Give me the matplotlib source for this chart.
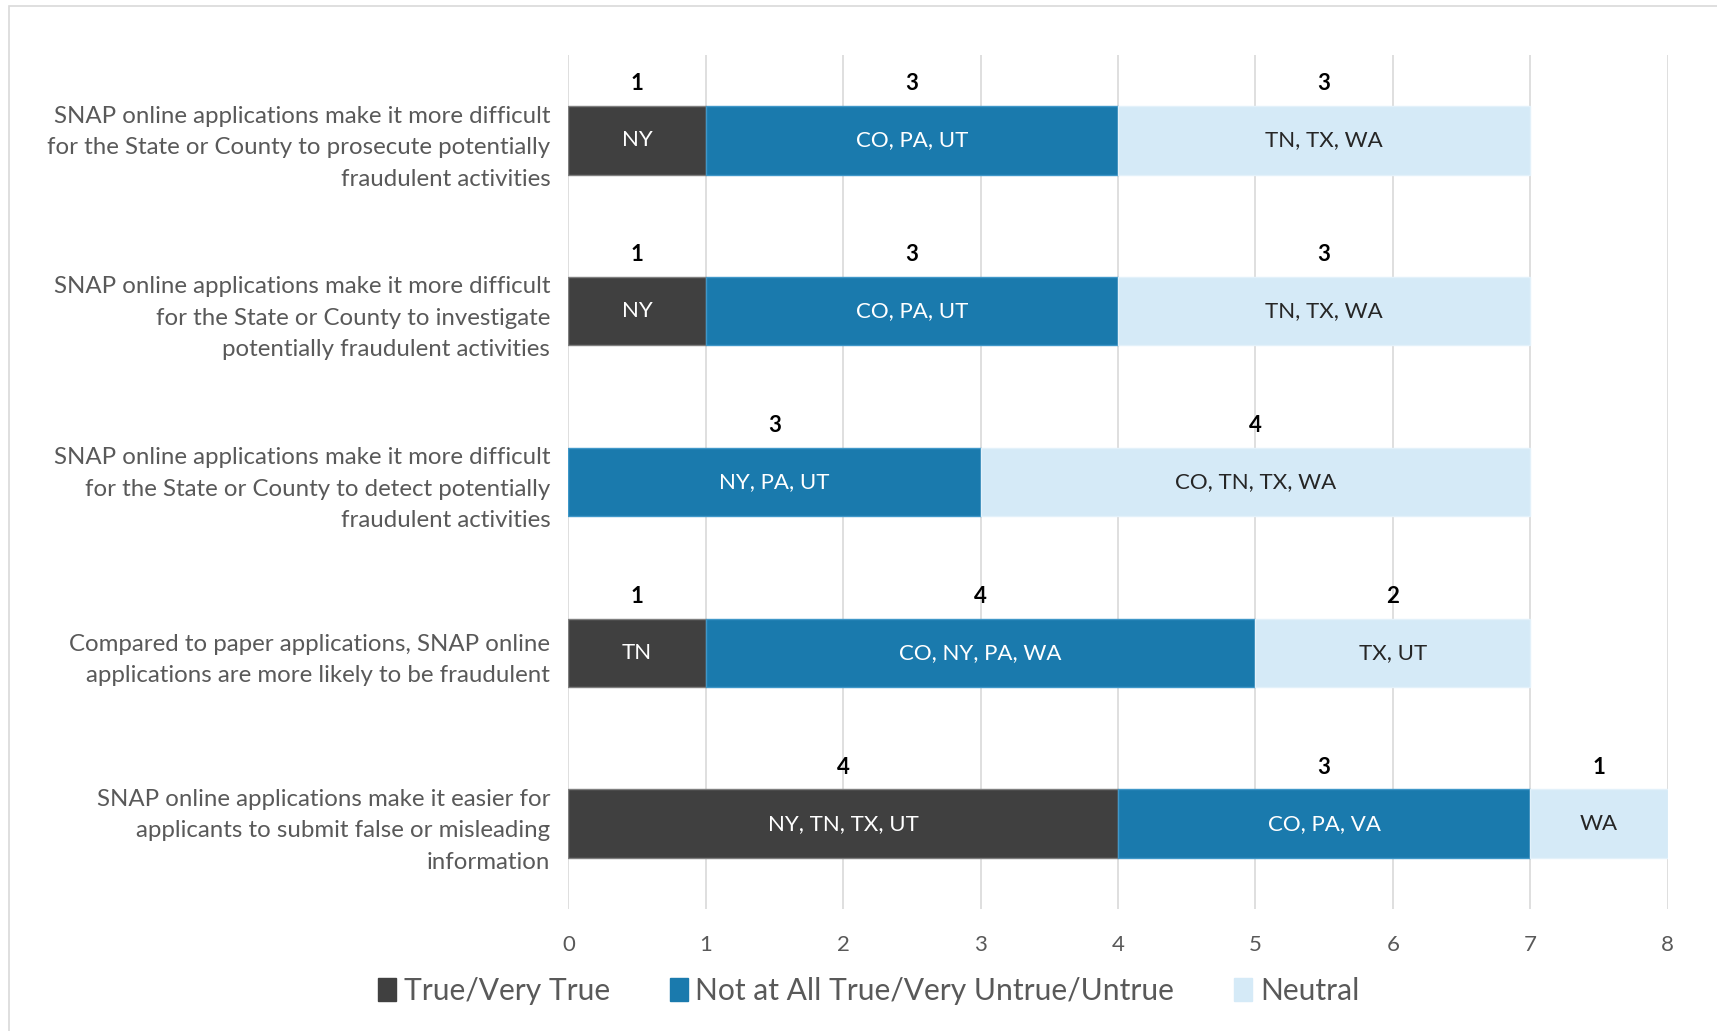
import matplotlib
matplotlib.use("Agg")
import matplotlib.pyplot as plt
import numpy as np
from matplotlib.patches import Patch, Rectangle

# Data (top to bottom)
categories = [
    "SNAP online applications make it more difficult\nfor the State or County to prosecute potentially\nfraudulent activities",
    "SNAP online applications make it more difficult\nfor the State or County to investigate\npotentially fraudulent activities",
    "SNAP online applications make it more difficult\nfor the State or County to detect potentially\nfraudulent activities",
    "Compared to paper applications, SNAP online\napplications are more likely to be fraudulent",
    "SNAP online applications make it easier for\napplicants to submit false or misleading\ninformation",
]
series_names = ["True/Very True", "Not at All True/Very Untrue/Untrue", "Neutral"]
true_counts = [1, 1, 0, 1, 4]
untrue_counts = [3, 3, 3, 4, 3]
neutral_counts = [3, 3, 4, 2, 1]
true_states = ["NY", "NY", "", "TN", "NY, TN, TX, UT"]
untrue_states = ["CO, PA, UT", "CO, PA, UT", "NY, PA, UT", "CO, NY, PA, WA", "CO, PA, VA"]
neutral_states = ["TN, TX, WA", "TN, TX, WA", "CO, TN, TX, WA", "TX, UT", "WA"]
x_ticks = [0, 1, 2, 3, 4, 5, 6, 7, 8]

colors = ["#404040", "#1a7aad", "#d5eaf7"]
edges = ["#7f7f7f", "#3f97c8", "#e3f1fa"]
text_colors = ["white", "white", "#262626"]
grey = "#595959"

plt.rcParams["font.family"] = ["Lato", "DejaVu Sans"]

fig = plt.figure(figsize=(17.17, 10.31), dpi=100)
ax = fig.add_axes([0.331, 0.1183, 0.6403, 0.8284])

y = np.arange(len(categories))
bar_h = 0.4
counts = [true_counts, untrue_counts, neutral_counts]
states = [true_states, untrue_states, neutral_states]

left = np.zeros(len(categories))
for k in range(3):
    vals = np.array(counts[k], dtype=float)
    ax.barh(y, vals, bar_h, left=left, color=colors[k], edgecolor=edges[k],
            linewidth=1, label=series_names[k], zorder=3)
    for i, v in enumerate(vals):
        if v <= 0:
            continue
        cx = left[i] + v / 2
        ax.text(cx, y[i], states[k][i], ha="center", va="center",
                fontsize=16, color=text_colors[k], zorder=4)
        ax.text(cx, y[i] - bar_h / 2 - 0.13, f"{int(v)}", ha="center", va="center",
                fontsize=16, fontweight="bold", color="black", zorder=4)
    left += vals

ax.set_xlim(0, 8)
ax.set_ylim(len(categories) - 0.5, -0.5)
ax.set_xticks(x_ticks)
ax.set_xticklabels([str(t) for t in x_ticks], fontsize=16, color=grey)
ax.set_yticks(y)
ax.set_yticklabels(categories, fontsize=17.3, color=grey, linespacing=1.62)
ax.tick_params(axis="both", length=0)
ax.tick_params(axis="x", pad=19)
ax.tick_params(axis="y", pad=13)
ax.grid(axis="x", color="#d9d9d9", linewidth=1.2, zorder=0)
for s in ax.spines.values():
    s.set_visible(False)

handles = [Patch(facecolor=c, edgecolor=c, label=n) for c, n in zip(colors, series_names)]
fig.legend(handles=handles, loc="center", bbox_to_anchor=(0.506, 0.039), ncol=3,
           frameon=False, fontsize=21.6, handlelength=0.6, handleheight=0.8,
           handletextpad=0.25, columnspacing=2.0, labelcolor=grey)

# light frame around the chart area
fig.patches.append(Rectangle((0.005, -0.1), 1.2, 1.094, transform=fig.transFigure,
                             fill=False, edgecolor="#d9d9d9", linewidth=1.2))

fig.savefig("out.png", dpi=100)
